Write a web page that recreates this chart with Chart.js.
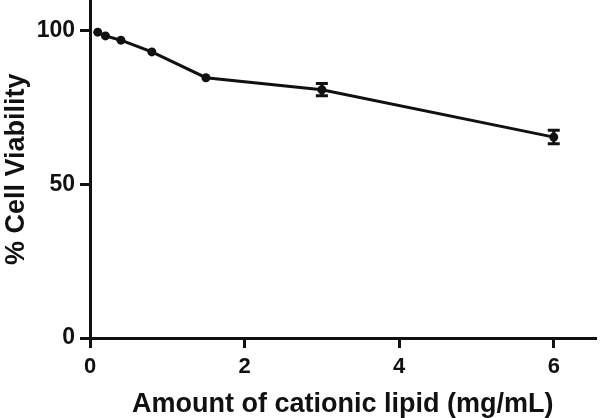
<!DOCTYPE html>
<html>
<head>
<meta charset="utf-8">
<script src="https://cdn.jsdelivr.net/npm/chart.js@4/dist/chart.umd.min.js"></script>
<style>
  html, body { margin: 0; padding: 0; background: #fff; }
  #wrap { width: 600px; height: 418px; overflow: hidden; }
  #chart { display: block; margin-top: -4px; }
</style>
</head>
<body>
<div id="wrap"><canvas id="chart" width="600" height="422"></canvas></div>
<script>
// lipid amount (mg/mL)
const lipidAmount = [0.1, 0.2, 0.4, 0.8, 1.5, 3, 6];
// % cell viability
const viability = [99.4, 98.2, 96.8, 93.0, 84.6, 80.7, 65.3];
// error (+/-), only visible at the last two doses
const viabilityErr = [0, 0, 0, 0, 0, 2.0, 2.2];

const xTicks = [0, 2, 4, 6];
const yTicks = [0, 50, 100];

const INK = '#111';
const FONT = '"Liberation Sans", Arial, sans-serif';

// error bars drawn through the chart scales
const errorBars = {
  id: 'errorBars',
  afterDatasetsDraw(chart) {
    const { ctx, scales: { x, y } } = chart;
    ctx.save();
    ctx.strokeStyle = INK;
    ctx.lineWidth = 3;
    lipidAmount.forEach((v, i) => {
      if (!viabilityErr[i]) return;
      const px = x.getPixelForValue(v);
      const top = y.getPixelForValue(viability[i] + viabilityErr[i]);
      const bot = y.getPixelForValue(viability[i] - viabilityErr[i]);
      ctx.beginPath();
      ctx.moveTo(px, top);
      ctx.lineTo(px, bot);
      ctx.moveTo(px - 6, top);
      ctx.lineTo(px + 6, top);
      ctx.moveTo(px - 6, bot);
      ctx.lineTo(px + 6, bot);
      ctx.stroke();
    });
    ctx.restore();
  }
};

new Chart(document.getElementById('chart'), {
  type: 'line',
  data: {
    datasets: [{
      data: lipidAmount.map((v, i) => ({ x: v, y: viability[i] })),
      borderColor: INK,
      backgroundColor: INK,
      borderWidth: 3,
      pointRadius: 4.5,
      pointBackgroundColor: INK,
      pointBorderWidth: 0,
      tension: 0,
    }]
  },
  options: {
    responsive: false,
    animation: false,
    layout: { padding: 0 },
    plugins: {
      legend: { display: false },
      tooltip: { enabled: false },
    },
    scales: {
      x: {
        type: 'linear',
        min: 0,
        max: 6.54,
        afterFit(scale) {
          scale.height = 80;
          scale.paddingLeft = 0;
          scale.paddingRight = 0;
        },
        afterBuildTicks(scale) { scale.ticks = xTicks.map(v => ({ value: v })); },
        ticks: {
          color: INK,
          padding: 6,
          font: { family: FONT, size: 22, weight: 'bold' },
        },
        grid: {
          display: true,
          drawOnChartArea: false,
          drawTicks: true,
          tickLength: 10,
          lineWidth: 3,
          color: INK,
        },
        border: { display: true, color: INK, width: 3 },
        title: {
          display: true,
          text: 'Amount of cationic lipid (mg/mL)',
          color: INK,
          padding: 0,
          font: { family: FONT, size: 27, weight: 'bold', lineHeight: 1.0 },
        },
      },
      y: {
        min: 0,
        max: 109.7,
        afterFit(scale) {
          scale.width = 90;
          scale.paddingTop = 0;
          scale.paddingBottom = 0;
        },
        afterBuildTicks(scale) { scale.ticks = yTicks.map(v => ({ value: v })); },
        ticks: {
          color: INK,
          padding: 5,
          font: { family: FONT, size: 23, weight: 'bold' },
        },
        grid: {
          display: true,
          drawOnChartArea: false,
          drawTicks: true,
          tickLength: 10,
          lineWidth: 3,
          color: INK,
        },
        border: { display: true, color: INK, width: 3 },
        title: {
          display: true,
          text: '% Cell Viability',
          color: INK,
          padding: 0,
          font: { family: FONT, size: 27, weight: 'bold', lineHeight: 1.2 },
        },
      },
    },
  },
  plugins: [errorBars],
});
</script>
</body>
</html>
